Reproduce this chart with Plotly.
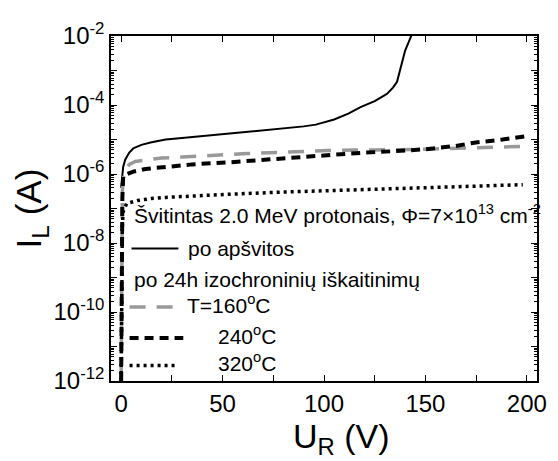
import plotly.graph_objects as go

# ---- data ----
V_solid = [0, 0.5, 1, 2, 4, 6, 10, 15, 22, 30, 40, 54, 70, 80, 90, 96, 100, 105, 112, 118, 125, 131,
           134, 136, 140, 143, 145]
I_solid = [4e-7, 1e-6, 1.6e-6, 2.6e-6, 4.2e-6, 5.5e-6, 7e-6, 8.3e-6, 1.0e-5, 1.1e-5, 1.25e-5, 1.45e-5,
           1.85e-5, 2.1e-5, 2.4e-5, 2.7e-5, 3.1e-5, 3.8e-5, 5.6e-5, 8.7e-5, 1.3e-4, 2.1e-4,
           3.2e-4, 4.7e-4, 3.8e-3, 1e-2, 2.5e-2]

V_160 = [0, 0.3, 0.6, 1, 2, 4, 7, 11, 20, 30, 45, 62, 80, 102, 125, 150, 175, 201]
I_160 = [1e-12, 1e-7, 3e-7, 7e-7, 1.3e-6, 1.9e-6, 2.3e-6, 2.5e-6, 2.9e-6, 3.1e-6, 3.5e-6, 3.9e-6,
         4.3e-6, 4.8e-6, 5.0e-6, 5.2e-6, 5.8e-6, 6.4e-6]

V_240 = [0, 0.3, 0.6, 1, 3, 6, 12, 22, 35, 54, 70, 86, 100, 118, 135, 150, 165, 174, 188, 200]
I_240 = [1e-12, 3e-8, 2e-7, 8.9e-7, 1.0e-6, 1.17e-6, 1.4e-6, 1.6e-6, 1.9e-6, 2.2e-6, 2.6e-6, 3.1e-6,
         3.5e-6, 4.1e-6, 4.6e-6, 5.2e-6, 6.5e-6, 8.1e-6, 1.0e-5, 1.26e-5]

V_320 = [0, 0.3, 0.6, 1, 2.7, 8, 15, 22, 40, 54, 80, 102, 130, 150, 175, 198]
I_320 = [1e-12, 1e-9, 3e-8, 8e-8, 1.4e-7, 1.7e-7, 1.95e-7, 2.1e-7, 2.4e-7, 2.6e-7, 3.0e-7, 3.3e-7,
         3.6e-7, 4.0e-7, 4.4e-7, 4.9e-7]

x_tickvals = [0, 25, 50, 75, 100, 125, 150, 175, 200]
x_ticktext = ["0", "", "50", "", "100", "", "150", "", "200"]
y_tickvals = [1e-12, 1e-11, 1e-10, 1e-9, 1e-8, 1e-7, 1e-6, 1e-5, 1e-4, 1e-3, 1e-2]
y_ticktext = ["10<sup>-12</sup>", "", "10<sup>-10</sup>", "", "10<sup>-8</sup>", "",
              "10<sup>-6</sup>", "", "10<sup>-4</sup>", "", "10<sup>-2</sup>"]

FONT = "Arial, Liberation Sans, sans-serif"
OFF = 8  # page body margin of the exported html

# plot area in page pixels
PL, PR, PT, PB = 111, 547, 27, 381
W, H = 558 - OFF, 461 - OFF

fig = go.Figure()
fig.add_trace(go.Scatter(x=V_solid, y=I_solid, mode="lines", line=dict(color="black", width=2)))
fig.add_trace(go.Scatter(x=V_160, y=I_160, mode="lines",
                         line=dict(color="#999999", width=3.5, dash="16px,11px")))
fig.add_trace(go.Scatter(x=V_240, y=I_240, mode="lines",
                         line=dict(color="black", width=4, dash="9px,6px")))
fig.add_trace(go.Scatter(x=V_320, y=I_320, mode="lines",
                         line=dict(color="black", width=3.5, dash="3px,4px")))

fig.update_layout(
    width=W, height=H,
    margin=dict(l=PL - OFF, r=558 - PR, t=PT - OFF, b=461 - PB, pad=0),
    paper_bgcolor="white", plot_bgcolor="white",
    showlegend=False,
    font=dict(family=FONT, color="black", size=20),
    xaxis=dict(range=[-5, 205], tickvals=x_tickvals, ticktext=x_ticktext,
               ticks="inside", ticklen=6, tickwidth=1, tickcolor="black",
               showline=True, linecolor="black", linewidth=1.5, mirror="allticks",
               showgrid=False, zeroline=False, tickfont=dict(size=24)),
    yaxis=dict(type="log", range=[-12, -2], tickvals=y_tickvals, ticktext=y_ticktext,
               ticks="inside", ticklen=6, tickwidth=1, tickcolor="black",
               showline=True, linecolor="black", linewidth=1.5, mirror="allticks",
               showgrid=False, zeroline=False, tickfont=dict(size=24),
               minor=dict(dtick="D1", ticks="inside", ticklen=3, tickcolor="black", showgrid=False)),
)

def px2paper(px, py):
    return (px - PL) / (PR - PL), (PB - py) / (PB - PT)

# axis titles
x, y = px2paper(347, 440)
fig.add_annotation(x=x, y=y, xref="paper", yref="paper", text="U<sub>R</sub> (V)", showarrow=False,
                   xanchor="center", yanchor="middle", font=dict(size=34, family=FONT))
x, y = px2paper(29, 204)
fig.add_annotation(x=x, y=y, xref="paper", yref="paper", text="I<sub>L</sub> (A)", showarrow=False,
                   textangle=-90, xanchor="center", yanchor="middle", font=dict(size=35, family=FONT))

ann = [
    (132, 210, "Švitintas 2.0 MeV protonais, Φ=7×10<sup>13</sup> cm<sup>-2</sup>"),
    (188, 245, "po apšvitos"),
    (132, 277, "po 24h izochroninių iškaitinimų"),
    (187, 302, "T=160<sup>o</sup>C"),
    (218, 334, "240<sup>o</sup>C"),
    (218, 362, "320<sup>o</sup>C"),
]
for px, py, t in ann:
    x, y = px2paper(px, py)
    fig.add_annotation(x=x, y=y, xref="paper", yref="paper", text=t, showarrow=False,
                       xanchor="left", yanchor="middle", font=dict(size=21, family=FONT))

samples = [
    (132, 180, 245, dict(color="black", width=2)),
    (130, 177, 305, dict(color="#999999", width=3.5, dash="16px,11px")),
    (130, 185, 337, dict(color="black", width=4, dash="9px,6px")),
    (130, 177, 365, dict(color="black", width=3.5, dash="3px,4px")),
]
for x0p, x1p, yp, ln in samples:
    x0, y = px2paper(x0p, yp)
    x1, _ = px2paper(x1p, yp)
    fig.add_shape(type="line", xref="paper", yref="paper", x0=x0, x1=x1, y0=y, y1=y, line=ln)

fig.write_html("out.html")
